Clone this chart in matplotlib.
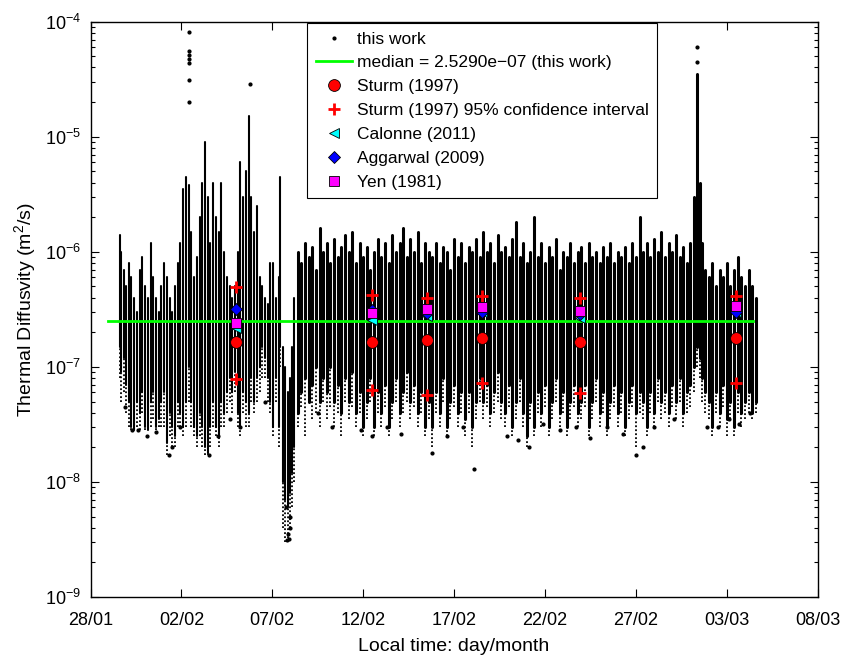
import matplotlib
matplotlib.use('Agg')
import matplotlib.pyplot as plt
import numpy as np
from matplotlib.ticker import LogLocator, NullFormatter

plt.rcParams['font.family'] = ['Liberation Sans', 'DejaVu Sans']
plt.rcParams['mathtext.fontset'] = 'custom'
plt.rcParams['mathtext.rm'] = 'Liberation Sans'
plt.rcParams['mathtext.it'] = 'Liberation Sans:italic'
plt.rcParams['mathtext.default'] = 'regular'

# ---------------- data (x in days since 28/01 00:00) ----------------
x_tick_days = [0, 5, 10, 15, 20, 25, 30, 35, 40]
x_tick_labels = ['28/01', '02/02', '07/02', '12/02', '17/02', '22/02', '27/02', '03/03', '08/03']

# "this work": dense streaks of points (day, low, high, sparse tail), values in 1e-7 m^2/s
col_day = [1.60, 1.70, 1.82, 1.95, 2.10, 2.25, 2.40, 2.55, 2.70, 2.85, 3.00, 3.15, 3.30, 3.45, 3.60,
           3.75, 3.90, 4.05, 4.20, 4.35, 4.50, 4.65, 4.80, 4.95, 5.10, 5.25, 5.42, 5.55, 5.70, 5.85,
           6.00, 6.15, 6.30, 6.45, 6.60, 6.75, 6.90, 7.05, 7.20, 7.35, 7.50, 7.65, 7.80, 7.95, 8.10,
           8.25, 8.40, 8.55, 8.70, 8.85, 9.00, 9.15, 9.30, 9.45, 9.60, 9.75, 9.90, 10.05, 10.20, 10.35,
           10.45, 10.60, 10.72, 10.84, 10.96, 11.08, 11.20,
           11.4, 11.6, 11.8, 12.0, 12.2, 12.4, 12.6, 12.8, 13.0, 13.2, 13.4, 13.6, 13.8, 14.0, 14.2,
           14.4, 14.6, 14.8, 15.0, 15.2, 15.4, 15.6, 15.8, 16.0, 16.2, 16.4, 16.6, 16.8, 17.0, 17.2,
           17.4, 17.6, 17.8, 18.0, 18.2, 18.4, 18.6, 18.8, 19.0, 19.2, 19.4, 19.6, 19.8, 20.0, 20.2,
           20.4, 20.6, 20.8, 21.0, 21.2, 21.4, 21.6, 21.8, 22.0, 22.2, 22.4, 22.6, 22.8, 23.0, 23.2,
           23.4, 23.6, 23.8, 24.0, 24.2, 24.4, 24.6, 24.8, 25.0, 25.2, 25.4, 25.6, 25.8, 26.0, 26.2,
           26.4, 26.6, 26.8, 27.0, 27.2, 27.4, 27.6, 27.8, 28.0, 28.2, 28.4, 28.6, 28.8, 29.0, 29.2,
           29.4, 29.6, 29.8, 30.0, 30.2, 30.4, 30.6, 30.8, 31.0, 31.2, 31.4, 31.6, 31.8, 32.0, 32.2,
           32.4, 32.6, 32.8, 33.0, 33.2, 33.36, 33.5, 33.65, 33.8, 34.0, 34.2, 34.4, 34.6, 34.8, 35.0,
           35.2, 35.4, 35.6, 35.8, 36.0, 36.2, 36.4, 36.6]
col_low = [1.5, 0.9, 1.2, 0.7, 0.5, 0.3, 0.28, 0.5, 0.4, 0.6, 0.3, 0.28, 0.5, 0.6, 0.3,
           0.35, 0.5, 0.6, 0.22, 0.4, 0.3, 0.25, 0.5, 0.4, 0.3, 0.5, 1.0, 0.5, 0.3, 0.25,
           0.4, 0.3, 0.2, 0.18, 0.3, 0.5, 0.3, 0.25, 0.5, 0.4, 0.6, 0.8, 0.6, 0.9, 0.4,
           0.3, 0.6, 0.5, 0.4, 0.8, 0.5, 0.8, 1.0, 1.5, 1.2, 0.8, 0.5, 0.3, 0.8, 0.3,
           1.5, 0.1, 0.07, 0.06, 0.08, 0.12, 0.2,
           0.4, 0.6, 0.8, 0.5, 0.7, 1.0, 0.5, 0.8, 0.6, 1.0, 0.5, 0.7, 0.4, 0.8, 0.5,
           0.9, 0.4, 0.6, 0.3, 0.5, 0.8, 0.3, 0.6, 0.4, 0.7, 0.3, 0.5, 0.8, 0.4, 0.6,
           0.9, 0.5, 0.7, 0.4, 0.6, 0.3, 0.5, 0.3, 0.6, 0.4, 0.8, 0.3, 0.5, 0.7, 0.4,
           0.6, 0.35, 0.6, 0.3, 0.5, 0.8, 0.5, 0.7, 0.4, 0.6, 0.9, 0.5, 0.4, 0.7, 0.3,
           0.5, 0.8, 0.4, 0.25, 0.5, 0.3, 0.6, 0.4, 0.7, 0.3, 0.5, 0.8, 0.4, 0.6, 0.3,
           0.5, 0.7, 0.4, 0.5, 0.7, 0.3, 0.5, 0.8, 0.4, 0.6, 0.3, 0.5, 0.7, 0.4, 0.6,
           0.3, 0.5, 0.7, 0.4, 0.6, 0.5, 0.3, 0.6, 0.4, 0.8, 0.5, 0.6, 0.4, 0.7, 0.5,
           0.8, 0.4, 0.6, 0.7, 1.0, 1.5, 1.2, 0.8, 0.6, 0.5, 0.3, 0.6, 0.4, 0.7, 0.35,
           0.5, 0.3, 0.6, 0.4, 0.5, 0.6, 0.4, 0.5]
col_high = [14, 10, 7, 5, 8, 6, 4, 3, 7, 9, 5, 4, 12, 6, 4,
            3, 5, 8, 6, 4, 3, 5, 8, 12, 35, 45, 38, 15, 6, 9,
            20, 40, 90, 30, 12, 40, 20, 15, 40, 10, 6, 5, 4, 5, 10,
            60, 30, 50, 150, 30, 15, 25, 6, 5, 4, 3.5, 8, 8, 4, 6,
            45, 1.5, 1.0, 0.6, 0.8, 1.5, 4,
            10, 8, 12, 9, 11, 7, 16, 10, 12, 8, 13, 9, 11, 14, 10,
            15, 8, 12, 9, 11, 7, 10, 13, 9, 12, 8, 14, 10, 12, 16,
            9, 13, 10, 15, 8, 12, 10, 9, 12, 8, 11, 10, 7, 13, 9,
            12, 8, 11, 10, 13, 9, 15, 10, 12, 8, 14, 10, 11, 9, 13,
            18, 9, 12, 8, 10, 20, 9, 12, 8, 11, 9, 13, 7, 10, 9,
            12, 8, 10, 11, 8, 12, 9, 10, 8, 11, 9, 12, 8, 10, 9,
            11, 8, 12, 9, 20, 10, 12, 9, 13, 10, 15, 9, 12, 10, 14,
            9, 11, 8, 12, 30, 350, 40, 12, 7, 6, 8, 5, 7, 6, 8,
            5, 7, 9, 6, 5, 7, 5, 4]
col_tail = [0.8, 0.5, 0.6, 0.4, 0.3, 0.28, 0.28, 0.3, 0.28, 0.4, 0.28, 0.28, 0.3, 0.35, 0.28,
            0.3, 0.3, 0.3, 0.17, 0.25, 0.2, 0.2, 0.3, 0.3, 0.25, 0.3, 0.5, 0.3, 0.25, 0.2,
            0.25, 0.2, 0.17, 0.17, 0.2, 0.3, 0.25, 0.2, 0.3, 0.3, 0.4, 0.5, 0.4, 0.6, 0.3,
            0.25, 0.4, 0.3, 0.3, 0.5, 0.4, 0.5, 0.6, 0.8, 0.8, 0.5, 0.4, 0.25, 0.5, 0.2,
            1.0, 0.04, 0.03, 0.03, 0.04, 0.06, 0.1,
            0.3, 0.45, 0.25, 0.5, 0.35, 0.4, 0.3, 0.5, 0.35, 0.45, 0.3, 0.4, 0.25, 0.5, 0.35,
            0.45, 0.3, 0.4, 0.25, 0.35, 0.5, 0.25, 0.4, 0.3, 0.45, 0.25, 0.35, 0.5, 0.3, 0.4,
            0.5, 0.35, 0.45, 0.3, 0.4, 0.25, 0.35, 0.2, 0.4, 0.3, 0.5, 0.25, 0.35, 0.45, 0.3,
            0.4, 0.25, 0.4, 0.2, 0.35, 0.5, 0.35, 0.45, 0.3, 0.4, 0.5, 0.35, 0.3, 0.45, 0.25,
            0.35, 0.5, 0.3, 0.2, 0.35, 0.25, 0.4, 0.3, 0.45, 0.25, 0.35, 0.5, 0.3, 0.4, 0.25,
            0.35, 0.45, 0.3, 0.35, 0.45, 0.25, 0.35, 0.5, 0.3, 0.4, 0.25, 0.35, 0.45, 0.3, 0.4,
            0.25, 0.35, 0.45, 0.2, 0.4, 0.35, 0.25, 0.4, 0.3, 0.5, 0.35, 0.4, 0.3, 0.45, 0.35,
            0.5, 0.3, 0.4, 0.45, 0.6, 1.0, 0.8, 0.5, 0.4, 0.35, 0.25, 0.4, 0.3, 0.45, 0.25,
            0.35, 0.25, 0.4, 0.3, 0.35, 0.4, 0.35, 0.4]

# "this work": isolated points (day, value in m^2/s)
pt_day = [5.42, 5.42, 5.42, 5.42, 5.42, 5.42, 5.42, 8.78, 33.36, 33.36,
          1.9, 2.3, 2.6, 3.1, 3.6, 4.3, 4.5, 4.9, 6.5, 7.0, 7.7, 8.2, 9.6,
          10.80, 10.85, 10.90, 10.95, 11.0, 10.75,
          12.5, 13.3, 14.9, 15.5, 16.3, 17.1, 18.8, 19.6, 20.5, 21.1, 22.9,
          23.5, 24.1, 24.9, 25.8, 26.7, 27.5, 28.4, 29.3, 30.0, 30.4, 31.0,
          32.1, 33.9, 34.5, 35.1, 35.7, 36.3]
pt_val = [8.1e-5, 5.6e-5, 5.1e-5, 4.7e-5, 4.4e-5, 3.1e-5, 2.0e-5, 2.9e-5, 6.0e-5, 4.5e-5,
          4.5e-8, 2.8e-8, 2.8e-8, 2.5e-8, 2.7e-8, 1.7e-8, 2.0e-8, 3.0e-8, 1.7e-8, 2.5e-8, 3.5e-8, 3.0e-8, 5e-8,
          3.1e-9, 3.5e-9, 3.2e-9, 4.0e-9, 5.0e-9, 6.0e-9,
          4.0e-8, 3.0e-8, 2.8e-8, 2.5e-8, 3.0e-8, 2.6e-8, 1.8e-8, 2.5e-8, 3.0e-8, 1.3e-8, 2.5e-8,
          2.3e-8, 2.0e-8, 3.2e-8, 2.8e-8, 3.0e-8, 2.4e-8, 3.0e-8, 2.6e-8, 1.7e-8, 2.0e-8, 3.0e-8,
          3.5e-8, 3.0e-8, 3.0e-8, 3.5e-8, 3.2e-8, 4.0e-8]

median_val = 2.529e-7
median_days = [0.96, 36.44]

# literature estimates at the measurement times
lit_day = [8.00, 15.48, 18.51, 21.54, 26.93, 35.51]
sturm = [1.63e-7, 1.63e-7, 1.70e-7, 1.80e-7, 1.66e-7, 1.80e-7]
sturm_ci_hi = [4.9e-7, 4.2e-7, 4.0e-7, 4.1e-7, 4.0e-7, 4.1e-7]
sturm_ci_lo = [7.9e-8, 6.3e-8, 5.75e-8, 7.2e-8, 5.9e-8, 7.2e-8]
calonne = [2.17e-7, 2.58e-7, 2.78e-7, 3.0e-7, 2.65e-7, 3.0e-7]
aggarwal = [3.18e-7, 3.1e-7, 2.95e-7, 2.99e-7, 2.9e-7, 3.0e-7]
yen = [2.42e-7, 2.95e-7, 3.18e-7, 3.33e-7, 3.07e-7, 3.37e-7]

# ---------------- figure ----------------
fig = plt.figure(figsize=(8.42, 6.57), dpi=100)
ax = fig.add_axes([0.1075, 0.0913, 0.8636, 0.8757])

cd = np.array(col_day)
lw = np.where(cd < 11.3, 1.5, 2.2)
ax.vlines(col_day, np.array(col_tail) * 1e-7, np.array(col_low) * 1e-7,
          colors='black', linewidth=1.3, linestyles=(0, (1, 1.2)), zorder=2)
ax.vlines(col_day, np.array(col_low) * 1e-7, np.array(col_high) * 1e-7,
          colors='black', linewidth=lw, capstyle='round', zorder=2)
ax.plot(pt_day, pt_val, '.', color='black', markersize=4, zorder=2, label='this work')
ax.plot(median_days, [median_val, median_val], '-', color='#00ff00', linewidth=2,
        zorder=3, label='median = 2.5290e\u221207 (this work)')

ax.plot(lit_day, sturm, 'o', color='red', mec='black', mew=0.6, markersize=8.5,
        zorder=4, label='Sturm (1997)')
ax.plot(lit_day + lit_day, sturm_ci_hi + sturm_ci_lo, '+', color='red', mew=2,
        markersize=9, zorder=4, label='Sturm (1997) 95% confidence interval')
ax.plot(lit_day, calonne, '<', color='cyan', mec='black', mew=0.6, markersize=7,
        zorder=4, label='Calonne (2011)')
ax.plot(lit_day, aggarwal, 'D', color='blue', mec='black', mew=0.6, markersize=6.5,
        zorder=4, label='Aggarwal (2009)')
ax.plot(lit_day, yen, 's', color='magenta', mec='black', mew=0.6, markersize=6.5,
        zorder=5, label='Yen (1981)')

ax.set_yscale('log')
ax.set_ylim(1e-9, 1e-4)
ax.set_xlim(x_tick_days[0], x_tick_days[-1])
ax.set_xticks(x_tick_days)
ax.set_xticklabels(x_tick_labels)
ax.yaxis.set_major_locator(LogLocator(base=10, numticks=10))
ax.yaxis.set_minor_locator(LogLocator(base=10, subs=np.arange(2, 10), numticks=20))
ax.yaxis.set_minor_formatter(NullFormatter())

ax.tick_params(which='both', direction='in', top=True, right=True, labelsize=13,
               width=0.8, color='black')
ax.tick_params(which='major', length=6)
ax.tick_params(which='minor', length=3)
ax.tick_params(axis='x', pad=11)
ax.tick_params(axis='y', pad=7)
for s in ax.spines.values():
    s.set_linewidth(1.0)

ax.set_xlabel('Local time: day/month', fontsize=14, labelpad=6)
ax.set_ylabel('Thermal Diffusvity (m$^2$/s)', fontsize=14, labelpad=5)

leg = ax.legend(loc='upper left', bbox_to_anchor=(0.298, 0.998), borderaxespad=0,
                fontsize=12.5, frameon=True, fancybox=False, edgecolor='black',
                framealpha=1, handlelength=2.1, handletextpad=0.25, labelspacing=0.5,
                borderpad=0.5)
leg.get_frame().set_linewidth(0.8)

fig.savefig('out.png', dpi=100)
